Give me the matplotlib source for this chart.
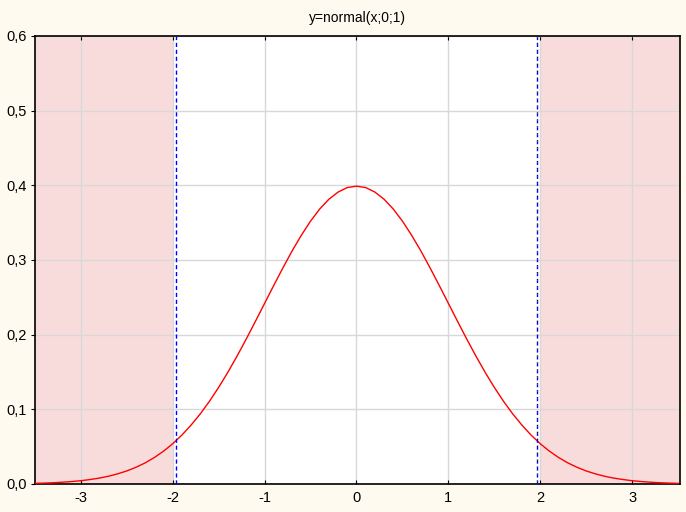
import matplotlib
matplotlib.use("Agg")
import matplotlib.pyplot as plt

plt.rcParams['font.family'] = ['Liberation Sans', 'DejaVu Sans']

# density values
x_vals = [-3.5, -3.4, -3.3, -3.2, -3.1, -3.0, -2.9, -2.8, -2.7, -2.6, -2.5,
          -2.4, -2.3, -2.2, -2.1, -2.0, -1.9, -1.8, -1.7, -1.6, -1.5,
          -1.4, -1.3, -1.2, -1.1, -1.0, -0.9, -0.8, -0.7, -0.6, -0.5,
          -0.4, -0.3, -0.2, -0.1, 0.0, 0.1, 0.2, 0.3, 0.4, 0.5,
          0.6, 0.7, 0.8, 0.9, 1.0, 1.1, 1.2, 1.3, 1.4, 1.5,
          1.6, 1.7, 1.8, 1.9, 2.0, 2.1, 2.2, 2.3, 2.4, 2.5,
          2.6, 2.7, 2.8, 2.9, 3.0, 3.1, 3.2, 3.3, 3.4, 3.5]
y_half = [0.0009, 0.0012, 0.0017, 0.0024, 0.0033, 0.0044, 0.0060, 0.0079, 0.0104, 0.0136,
          0.0175, 0.0224, 0.0283, 0.0355, 0.0440, 0.0540, 0.0656, 0.0790, 0.0940, 0.1109,
          0.1295, 0.1497, 0.1714, 0.1942, 0.2179, 0.2420, 0.2661, 0.2897, 0.3123, 0.3332,
          0.3521, 0.3683, 0.3814, 0.3910, 0.3970]
y_peak = [0.3989]
y_vals = y_half + y_peak + y_half[::-1]

crit_lo, crit_hi = -1.96, 1.96
shade_lo, shade_hi = -2.0, 2.0
x_ticks = [-3, -2, -1, 0, 1, 2, 3]
y_ticks = [0.0, 0.1, 0.2, 0.3, 0.4, 0.5, 0.6]

bg = '#fffaf0'
fig = plt.figure(figsize=(6.86, 5.12), dpi=100, facecolor=bg)
ax = fig.add_axes([0.051, 0.0547, 0.940, 0.875])
ax.set_facecolor('white')

ax.axvspan(-3.5, shade_lo, color='#f8dcdc', zorder=0, lw=0)
ax.axvspan(shade_hi, 3.52, color='#f8dcdc', zorder=0, lw=0)

ax.grid(True, color='#d8d8d8', lw=1, zorder=1)
ax.set_axisbelow(True)

ax.plot(x_vals, y_vals, color='red', lw=1, zorder=3)

ax.axvline(crit_lo, color='blue', lw=1, ls=(0, (3, 2)), zorder=4)
# right line: blue dash + dark dot, then a gap
ax.axvline(crit_hi, color='blue', lw=1, ls=(0, (2, 3)), zorder=4)
ax.axvline(crit_hi, color='#101040', lw=1, ls=(3, (1, 4)), zorder=4)

ax.set_xlim(-3.5, 3.52)
ax.set_ylim(0, 0.6)
ax.set_xticks(x_ticks)
ax.set_xticklabels([str(t) for t in x_ticks])
ax.set_yticks(y_ticks)
ax.set_yticklabels([f'{t:.1f}'.replace('.', ',') for t in y_ticks])

ax.tick_params(axis='x', direction='in', length=3, top=True, labelsize=10.5, pad=5)
ax.tick_params(axis='y', direction='out', length=3, labelsize=10.5, pad=3)
for s in ax.spines.values():
    s.set_linewidth(1.2)
    s.set_color('black')

ax.set_title('y=normal(x;0;1)', fontsize=10, pad=10)

fig.savefig('out.png', dpi=100, facecolor=bg)
